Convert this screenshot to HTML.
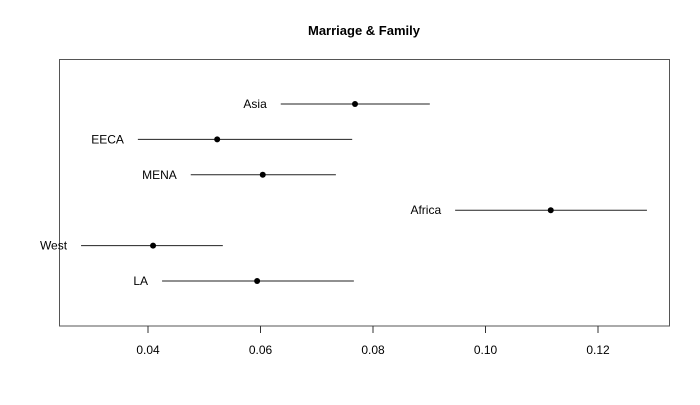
<!DOCTYPE html>
<html><head><meta charset="utf-8"><style>
body{margin:0;background:#fff}
svg{font-family:"Liberation Sans",Arial,sans-serif}
</style></head><body>
<svg width="700" height="400">
<text x="364" y="35" text-anchor="middle" font-size="13" font-weight="bold">Marriage &amp; Family</text>
<rect x="59.5" y="59.5" width="610" height="266.5" fill="none" stroke="#555"/>
<g id="axis"></g>
<g id="marks"></g>
</svg>
<script>
const categories=["Asia","EECA","MENA","Africa","West","LA"];
const lows=[0.0636,0.0382,0.0476,0.0946,0.0281,0.0425];
const estimates=[0.0768,0.0523,0.0604,0.1116,0.0409,0.0594];
const highs=[0.0901,0.0763,0.0734,0.1287,0.0533,0.0766];
const ticks=[0.04,0.06,0.08,0.10,0.12];
const tickLabels=["0.04","0.06","0.08","0.10","0.12"];
const NS="http://www.w3.org/2000/svg";
function xs(v){return 148+(v-0.04)*5625;}
function ys(i){return 104+i*35.4;}
function mk(t,a,p){const e=document.createElementNS(NS,t);for(const k in a)e.setAttribute(k,a[k]);p.appendChild(e);return e;}
const ax=document.getElementById('axis');
ticks.forEach((t,i)=>{
 const l=mk('line',{x1:xs(t),x2:xs(t),y1:326,y2:333,stroke:'#333'},ax);
 
 
 const tx=mk('text',{x:xs(t),y:354,'text-anchor':'middle','font-size':12},ax);
 tx.textContent=tickLabels[i];
 
 
});
const g=document.getElementById('marks');
categories.forEach((c,i)=>{
 const y=ys(i);
 const l=mk('line',{x1:xs(lows[i]),x2:xs(highs[i]),y1:y,y2:y,stroke:'#222','stroke-width':1},g);
 
 
 const d=mk('circle',{cx:xs(estimates[i]),cy:y,r:3,fill:'#000'},g);
 
 
 const t=mk('text',{x:xs(lows[i])-14,y:y+4,'text-anchor':'end','font-size':12},g);
 t.textContent=c;
 
 
});
</script>
</body></html>
